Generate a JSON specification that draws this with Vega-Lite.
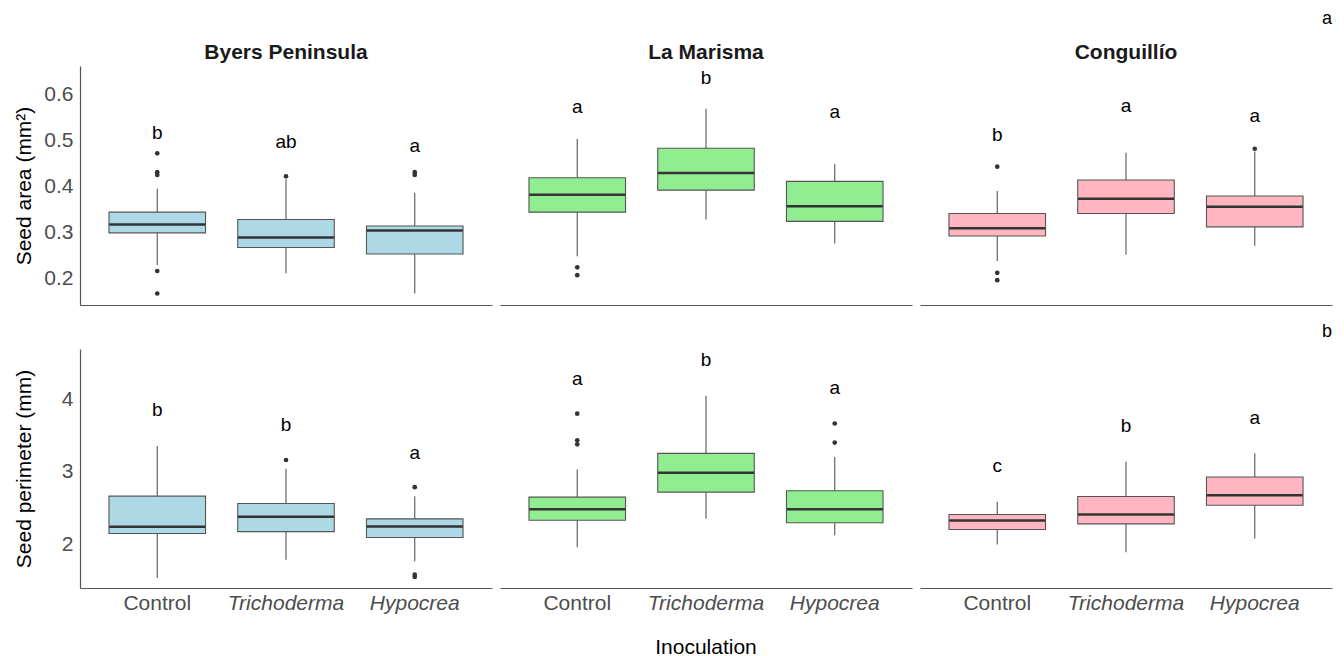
{
  "$schema": "https://vega.github.io/schema/vega-lite/v6.json",
  "background": "white",
  "padding": {"left": 13, "top": 10, "right": 5, "bottom": 0},
  "config": {
    "view": {"stroke": null},
    "font": "Liberation Sans",
    "axis": {"grid": false, "ticks": false, "domainColor": "#555555", "domainWidth": 1.2, "labelColor": "#4d4d4d", "labelFontSize": 21, "labelFont": "Liberation Sans", "titleFont": "Liberation Sans", "titleFontSize": 21, "titleFontWeight": "normal", "titleColor": "black", "labelPadding": 7},
    "header": {"labelFont": "Liberation Sans", "titleFont": "Liberation Sans"},
    "title": {"font": "Liberation Sans"},
    "text": {"font": "Liberation Sans"}
  },
  "datasets": {
    "stats": [
      {"kind": "box", "measure": "area", "site": "Byers Peninsula", "treatment": "Control", "lower": 0.229, "q1": 0.299, "median": 0.317, "q3": 0.344, "upper": 0.395, "letter": "b", "letter_y": 0.516},
      {"kind": "box", "measure": "area", "site": "Byers Peninsula", "treatment": "Trichoderma", "lower": 0.211, "q1": 0.267, "median": 0.289, "q3": 0.328, "upper": 0.415, "letter": "ab", "letter_y": 0.496},
      {"kind": "box", "measure": "area", "site": "Byers Peninsula", "treatment": "Hypocrea", "lower": 0.167, "q1": 0.253, "median": 0.304, "q3": 0.314, "upper": 0.386, "letter": "a", "letter_y": 0.487},
      {"kind": "box", "measure": "area", "site": "La Marisma", "treatment": "Control", "lower": 0.248, "q1": 0.344, "median": 0.382, "q3": 0.419, "upper": 0.503, "letter": "a", "letter_y": 0.572},
      {"kind": "box", "measure": "area", "site": "La Marisma", "treatment": "Trichoderma", "lower": 0.328, "q1": 0.392, "median": 0.429, "q3": 0.483, "upper": 0.569, "letter": "b", "letter_y": 0.635},
      {"kind": "box", "measure": "area", "site": "La Marisma", "treatment": "Hypocrea", "lower": 0.276, "q1": 0.324, "median": 0.357, "q3": 0.411, "upper": 0.449, "letter": "a", "letter_y": 0.561},
      {"kind": "box", "measure": "area", "site": "Conguillío", "treatment": "Control", "lower": 0.238, "q1": 0.292, "median": 0.309, "q3": 0.341, "upper": 0.390, "letter": "b", "letter_y": 0.512},
      {"kind": "box", "measure": "area", "site": "Conguillío", "treatment": "Trichoderma", "lower": 0.252, "q1": 0.341, "median": 0.373, "q3": 0.414, "upper": 0.473, "letter": "a", "letter_y": 0.574},
      {"kind": "box", "measure": "area", "site": "Conguillío", "treatment": "Hypocrea", "lower": 0.271, "q1": 0.312, "median": 0.356, "q3": 0.379, "upper": 0.476, "letter": "a", "letter_y": 0.553},
      {"kind": "out", "measure": "area", "site": "Byers Peninsula", "treatment": "Control", "value": 0.472},
      {"kind": "out", "measure": "area", "site": "Byers Peninsula", "treatment": "Control", "value": 0.431},
      {"kind": "out", "measure": "area", "site": "Byers Peninsula", "treatment": "Control", "value": 0.425},
      {"kind": "out", "measure": "area", "site": "Byers Peninsula", "treatment": "Control", "value": 0.216},
      {"kind": "out", "measure": "area", "site": "Byers Peninsula", "treatment": "Control", "value": 0.167},
      {"kind": "out", "measure": "area", "site": "Byers Peninsula", "treatment": "Trichoderma", "value": 0.422},
      {"kind": "out", "measure": "area", "site": "Byers Peninsula", "treatment": "Hypocrea", "value": 0.431},
      {"kind": "out", "measure": "area", "site": "Byers Peninsula", "treatment": "Hypocrea", "value": 0.425},
      {"kind": "out", "measure": "area", "site": "La Marisma", "treatment": "Control", "value": 0.224},
      {"kind": "out", "measure": "area", "site": "La Marisma", "treatment": "Control", "value": 0.207},
      {"kind": "out", "measure": "area", "site": "Conguillío", "treatment": "Control", "value": 0.443},
      {"kind": "out", "measure": "area", "site": "Conguillío", "treatment": "Control", "value": 0.212},
      {"kind": "out", "measure": "area", "site": "Conguillío", "treatment": "Control", "value": 0.196},
      {"kind": "out", "measure": "area", "site": "Conguillío", "treatment": "Hypocrea", "value": 0.482},
      {"kind": "box", "measure": "perimeter", "site": "Byers Peninsula", "treatment": "Control", "lower": 1.54, "q1": 2.152, "median": 2.244, "q3": 2.666, "upper": 3.356, "letter": "b", "letter_y": 3.848},
      {"kind": "box", "measure": "perimeter", "site": "Byers Peninsula", "treatment": "Trichoderma", "lower": 1.793, "q1": 2.179, "median": 2.382, "q3": 2.566, "upper": 3.044, "letter": "b", "letter_y": 3.646},
      {"kind": "box", "measure": "perimeter", "site": "Byers Peninsula", "treatment": "Hypocrea", "lower": 1.77, "q1": 2.097, "median": 2.248, "q3": 2.354, "upper": 2.666, "letter": "a", "letter_y": 3.265},
      {"kind": "box", "measure": "perimeter", "site": "La Marisma", "treatment": "Control", "lower": 1.963, "q1": 2.335, "median": 2.487, "q3": 2.653, "upper": 3.034, "letter": "a", "letter_y": 4.276},
      {"kind": "box", "measure": "perimeter", "site": "La Marisma", "treatment": "Trichoderma", "lower": 2.354, "q1": 2.722, "median": 2.989, "q3": 3.255, "upper": 4.046, "letter": "b", "letter_y": 4.538},
      {"kind": "box", "measure": "perimeter", "site": "La Marisma", "treatment": "Hypocrea", "lower": 2.129, "q1": 2.30, "median": 2.487, "q3": 2.74, "upper": 3.205, "letter": "a", "letter_y": 4.147},
      {"kind": "box", "measure": "perimeter", "site": "Conguillío", "treatment": "Control", "lower": 2.0, "q1": 2.207, "median": 2.331, "q3": 2.414, "upper": 2.589, "letter": "c", "letter_y": 3.08},
      {"kind": "box", "measure": "perimeter", "site": "Conguillío", "treatment": "Trichoderma", "lower": 1.894, "q1": 2.285, "median": 2.414, "q3": 2.662, "upper": 3.14, "letter": "b", "letter_y": 3.632},
      {"kind": "box", "measure": "perimeter", "site": "Conguillío", "treatment": "Hypocrea", "lower": 2.083, "q1": 2.542, "median": 2.68, "q3": 2.929, "upper": 3.255, "letter": "a", "letter_y": 3.738},
      {"kind": "out", "measure": "perimeter", "site": "Byers Peninsula", "treatment": "Trichoderma", "value": 3.163},
      {"kind": "out", "measure": "perimeter", "site": "Byers Peninsula", "treatment": "Hypocrea", "value": 2.79},
      {"kind": "out", "measure": "perimeter", "site": "Byers Peninsula", "treatment": "Hypocrea", "value": 1.586},
      {"kind": "out", "measure": "perimeter", "site": "Byers Peninsula", "treatment": "Hypocrea", "value": 1.554},
      {"kind": "out", "measure": "perimeter", "site": "La Marisma", "treatment": "Control", "value": 3.80},
      {"kind": "out", "measure": "perimeter", "site": "La Marisma", "treatment": "Control", "value": 3.434},
      {"kind": "out", "measure": "perimeter", "site": "La Marisma", "treatment": "Control", "value": 3.379},
      {"kind": "out", "measure": "perimeter", "site": "La Marisma", "treatment": "Hypocrea", "value": 3.665},
      {"kind": "out", "measure": "perimeter", "site": "La Marisma", "treatment": "Hypocrea", "value": 3.403}
    ]
  },
  "spacing": 18,
  "vconcat": [
    {
      "title": {"text": "a", "anchor": "end", "fontSize": 18, "fontWeight": "normal", "color": "black", "offset": 14},
      "data": {"name": "stats"},
      "transform": [{"filter": "datum.measure == 'area'"}],
      "facet": {"column": {"field": "site", "type": "nominal", "sort": ["Byers Peninsula", "La Marisma", "Conguillío"], "title": null, "header": {"labelFontSize": 21, "labelFontWeight": "bold", "labelColor": "#1a1a1a", "labelPadding": 3}}},
      "spacing": 8,
      "spec": {
        "width": 412,
        "height": 239,
        "encoding": {
          "x": {"field": "treatment", "type": "nominal", "scale": {"type": "band", "domain": ["Control", "Trichoderma", "Hypocrea"], "paddingInner": 0, "paddingOuter": 0.1}, "axis": {"labels": false, "title": null}}
        },
        "layer": [
          {"transform": [{"filter": "datum.kind == 'box'"}], "mark": {"type": "rule", "color": "#555555", "strokeWidth": 1.1},
           "encoding": {"y": {"field": "lower", "type": "quantitative", "title": "Seed area (mm²)", "scale": {"domain": [0.142, 0.662], "nice": false, "zero": false}, "axis": {"values": [0.2, 0.3, 0.4, 0.5, 0.6], "format": ".1f", "minExtent": 37, "maxExtent": 37, "titlePadding": 9}}, "y2": {"field": "upper"}}},
          {"transform": [{"filter": "datum.kind == 'box'"}], "mark": {"type": "bar", "width": {"band": 0.75}, "stroke": "#555555", "strokeWidth": 1.1},
           "encoding": {"y": {"field": "q1", "type": "quantitative", "title": "Seed area (mm²)"}, "y2": {"field": "q3"}, "fill": {"field": "site", "type": "nominal", "scale": {"domain": ["Byers Peninsula", "La Marisma", "Conguillío"], "range": ["#ADD8E6", "#90EE90", "#FFB6C1"]}, "legend": null}}},
          {"transform": [{"filter": "datum.kind == 'box'"}], "mark": {"type": "tick", "size": 96, "thickness": 2.5, "color": "#333333", "opacity": 1},
           "encoding": {"y": {"field": "median", "type": "quantitative", "title": "Seed area (mm²)"}}},
          {"transform": [{"filter": "datum.kind == 'out'"}], "mark": {"type": "point", "filled": true, "size": 22, "color": "#333333", "opacity": 1},
           "encoding": {"y": {"field": "value", "type": "quantitative", "title": "Seed area (mm²)"}}},
          {"transform": [{"filter": "datum.kind == 'box'"}], "mark": {"type": "text", "fontSize": 19, "color": "black", "baseline": "middle"},
           "encoding": {"y": {"field": "letter_y", "type": "quantitative", "title": "Seed area (mm²)"}, "text": {"field": "letter"}}}
        ]
      }
    },
    {
      "title": {"text": "b", "anchor": "end", "fontSize": 18, "fontWeight": "normal", "color": "black", "offset": 8},
      "data": {"name": "stats"},
      "transform": [{"filter": "datum.measure == 'perimeter'"}],
      "facet": {"column": {"field": "site", "type": "nominal", "sort": ["Byers Peninsula", "La Marisma", "Conguillío"], "title": "Inoculation", "header": {"labels": false, "titleOrient": "bottom", "titleFontSize": 21, "titleFontWeight": "normal", "titleColor": "black", "titlePadding": 14}}},
      "spacing": 8,
      "spec": {
        "width": 412,
        "height": 239,
        "encoding": {
          "x": {"field": "treatment", "type": "nominal", "scale": {"type": "band", "domain": ["Control", "Trichoderma", "Hypocrea"], "paddingInner": 0, "paddingOuter": 0.1}, "axis": {"title": null, "labelAngle": 0, "labelPadding": 4, "labelFontStyle": {"condition": {"test": "datum.value !== 'Control'", "value": "italic"}, "value": "normal"}}}
        },
        "layer": [
          {"transform": [{"filter": "datum.kind == 'box'"}], "mark": {"type": "rule", "color": "#555555", "strokeWidth": 1.1},
           "encoding": {"y": {"field": "lower", "type": "quantitative", "title": "Seed perimeter (mm)", "scale": {"domain": [1.403, 4.69], "nice": false, "zero": false}, "axis": {"values": [2, 3, 4], "format": "d", "minExtent": 37, "maxExtent": 37, "titlePadding": 9}}, "y2": {"field": "upper"}}},
          {"transform": [{"filter": "datum.kind == 'box'"}], "mark": {"type": "bar", "width": {"band": 0.75}, "stroke": "#555555", "strokeWidth": 1.1},
           "encoding": {"y": {"field": "q1", "type": "quantitative", "title": "Seed perimeter (mm)"}, "y2": {"field": "q3"}, "fill": {"field": "site", "type": "nominal", "scale": {"domain": ["Byers Peninsula", "La Marisma", "Conguillío"], "range": ["#ADD8E6", "#90EE90", "#FFB6C1"]}, "legend": null}}},
          {"transform": [{"filter": "datum.kind == 'box'"}], "mark": {"type": "tick", "size": 96, "thickness": 2.5, "color": "#333333", "opacity": 1},
           "encoding": {"y": {"field": "median", "type": "quantitative", "title": "Seed perimeter (mm)"}}},
          {"transform": [{"filter": "datum.kind == 'out'"}], "mark": {"type": "point", "filled": true, "size": 22, "color": "#333333", "opacity": 1},
           "encoding": {"y": {"field": "value", "type": "quantitative", "title": "Seed perimeter (mm)"}}},
          {"transform": [{"filter": "datum.kind == 'box'"}], "mark": {"type": "text", "fontSize": 19, "color": "black", "baseline": "middle"},
           "encoding": {"y": {"field": "letter_y", "type": "quantitative", "title": "Seed perimeter (mm)"}, "text": {"field": "letter"}}}
        ]
      }
    }
  ]
}
